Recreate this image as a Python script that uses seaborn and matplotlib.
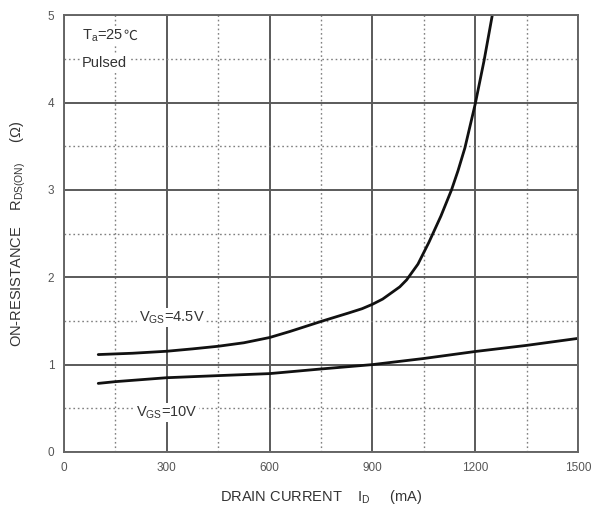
import numpy as np
import pandas as pd
import matplotlib
matplotlib.use('Agg')
import matplotlib.pyplot as plt
import seaborn as sns
from matplotlib.ticker import MultipleLocator

sns.set_style('white')
plt.rcParams['font.family'] = ['Liberation Sans', 'Noto Sans CJK SC', 'DejaVu Sans']

# drain current (mA) and on-resistance (ohm)
id_45 = [100, 200, 300, 375, 450, 525, 600, 660, 755, 830, 870, 900, 930, 955, 980, 1000, 1033, 1065, 1100, 1131, 1150, 1170, 1200, 1226, 1250]
r_45 = [1.115, 1.13, 1.153, 1.18, 1.21, 1.25, 1.31, 1.38, 1.50, 1.59, 1.64, 1.69, 1.75, 1.82, 1.89, 1.97, 2.15, 2.40, 2.70, 3.0, 3.22, 3.48, 3.98, 4.48, 5.0]

id_10 = [100, 150, 200, 300, 450, 600, 750, 900, 1050, 1200, 1350, 1500]
r_10 = [0.785, 0.805, 0.82, 0.85, 0.874, 0.897, 0.95, 1.0, 1.07, 1.15, 1.22, 1.30]

x_ticks = [0, 300, 600, 900, 1200, 1500]
y_ticks = [0, 1, 2, 3, 4, 5]

df = pd.concat([
    pd.DataFrame({'id': id_45, 'r': r_45, 'vgs': '4.5V'}),
    pd.DataFrame({'id': id_10, 'r': r_10, 'vgs': '10V'}),
])

fig = plt.figure(figsize=(5.94, 5.05), dpi=100)
ax = fig.add_axes([0.1077, 0.105, 0.8653, 0.865])

ax.set_xlim(0, 1500)
ax.set_ylim(0, 5)
ax.set_xticks(x_ticks)
ax.set_yticks(y_ticks)
ax.xaxis.set_minor_locator(MultipleLocator(150))
ax.yaxis.set_minor_locator(MultipleLocator(0.5))
ax.grid(which='major', color='#5a5a5a', linewidth=1.4, linestyle='-')
ax.grid(which='minor', color='#808080', linewidth=1.0, linestyle=(0, (1.2, 2)))
ax.set_axisbelow(True)
for s in ax.spines.values():
    s.set_color('#666666')
    s.set_linewidth(1.4)

sns.lineplot(data=df, x='id', y='r', units='vgs', estimator=None, color='#111111',
             linewidth=2.0, ax=ax, legend=False, sort=False,
             solid_joinstyle='round', solid_capstyle='round')

ax.tick_params(axis='both', which='both', length=0, labelsize=8.5, colors='#555555', pad=7)
ax.set_xlabel('DRAIN CURRENT    I$_\\mathregular{D}$     (mA)', fontsize=10.5, color='#333333', labelpad=10)
ax.set_ylabel('ON-RESISTANCE    R$_\\mathregular{DS(ON)}$     (Ω)', fontsize=10.5, color='#333333', labelpad=14)

# temperature note: mathtext can't fall back to a CJK font, so the degree sign is its own text
t_note = ax.text(53, 4.76, 'T$_\\mathregular{a}$=25', fontsize=10.5, color='#333333', va='center',
                 bbox=dict(facecolor='white', edgecolor='none', pad=1))
ax.annotate('℃', xy=(1, 0.5), xycoords=t_note, va='center', ha='left', fontsize=10,
            color='#333333', family=['Noto Sans CJK SC', 'DejaVu Sans'],
            bbox=dict(facecolor='white', edgecolor='none', pad=0))
ax.text(53, 4.45, 'Pulsed', fontsize=10.5, color='#333333', va='center',
        bbox=dict(facecolor='white', edgecolor='none', pad=1))
ax.text(218, 1.54, 'V$_\\mathregular{GS}$=4.5V', fontsize=10.5, color='#333333', va='center',
        bbox=dict(facecolor='white', edgecolor='none', pad=1))
ax.text(210, 0.45, 'V$_\\mathregular{GS}$=10V', fontsize=10.5, color='#333333', va='center',
        bbox=dict(facecolor='white', edgecolor='none', pad=1))

fig.savefig('out.png', dpi=100)
